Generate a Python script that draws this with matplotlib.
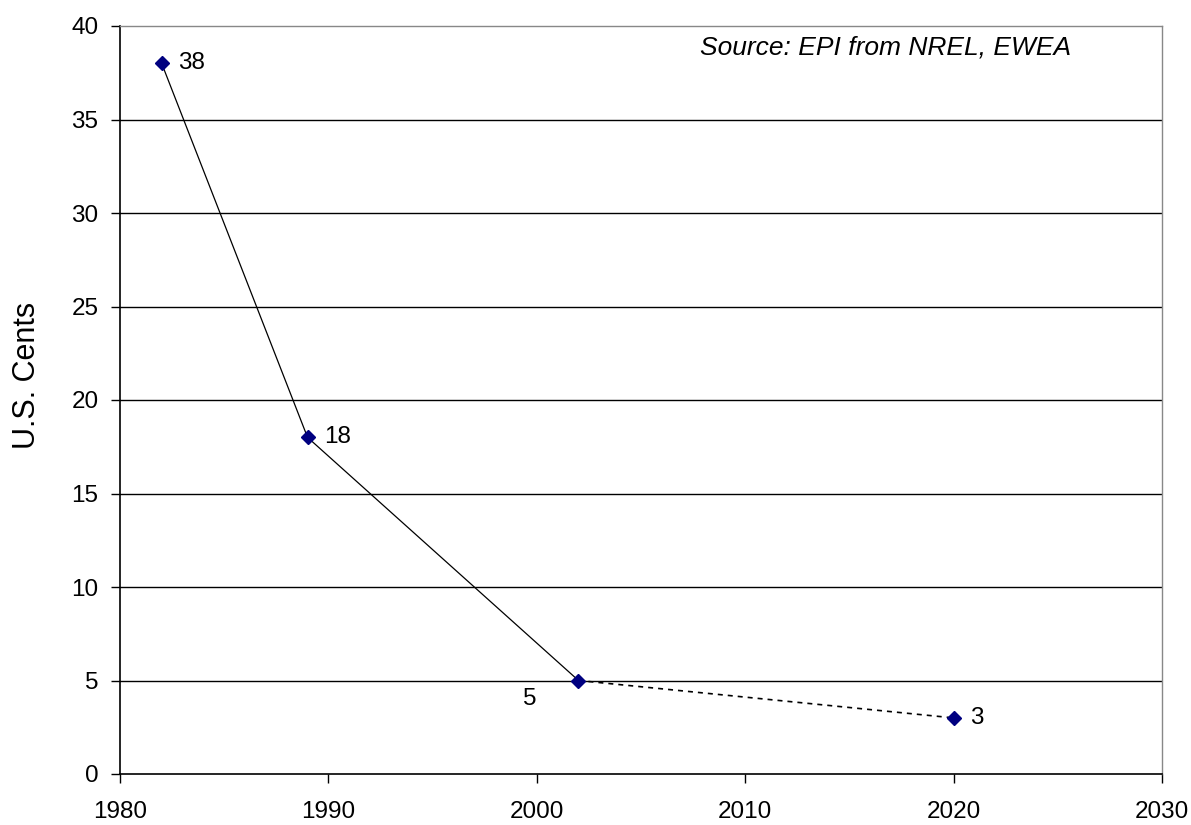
import matplotlib
matplotlib.use("Agg")
import matplotlib.pyplot as plt

years = [1982, 1989, 2002, 2020]
cents = [38, 18, 5, 3]
labels = ["38", "18", "5", "3"]
x_ticks = [1980, 1990, 2000, 2010, 2020, 2030]
y_ticks = [0, 5, 10, 15, 20, 25, 30, 35, 40]

plt.rcParams['font.family'] = ['Liberation Sans', 'DejaVu Sans']

fig = plt.figure(figsize=(11.91, 8.25), dpi=100)
ax = fig.add_axes([120/1191, 51/825, 1042/1191, 748/825])

ax.set_xlim(1980, 2030)
ax.set_ylim(0, 40)

for y in y_ticks[1:-1]:
    ax.axhline(y, color='black', lw=1.0, zorder=1)

# solid segment (historical) and dashed segment (projection)
ax.plot(years[:3], cents[:3], color='black', lw=0.9, zorder=2)
ax.plot(years[2:], cents[2:], color='black', lw=1.2, ls=(0, (3, 3)), zorder=2)
ax.plot(years, cents, ls='none', marker='D', ms=7.5, color='#000080', zorder=3)

offsets = [(12, 0, 'left', 'center'), (12, 0, 'left', 'center'),
           (-40, -13, 'left', 'center'), (12, 0, 'left', 'center')]
for x, y, t, (dx, dy, ha, va) in zip(years, cents, labels, offsets):
    ax.annotate(t, (x, y), xytext=(dx, dy), textcoords='offset points',
                ha=ha, va=va, fontsize=17.5)

fig.text(700/1191, (825-48)/825, "Source: EPI from NREL, EWEA",
         ha='left', va='center', fontsize=19, style='italic')

ax.set_xticks(x_ticks)
ax.set_yticks(y_ticks)
ax.tick_params(axis='both', labelsize=17.5, length=6.5, width=1, direction='out', color='black')
ax.tick_params(axis='x', pad=13)
ax.tick_params(axis='y', pad=9)

for s in ['left', 'bottom']:
    ax.spines[s].set_color('black')
    ax.spines[s].set_linewidth(1.2)
for s in ['top', 'right']:
    ax.spines[s].set_color('#888888')
    ax.spines[s].set_linewidth(1.0)
    ax.spines[s].set_linestyle((0, (1, 1)))

ax.set_ylabel("U.S. Cents", fontsize=22)
ax.yaxis.set_label_coords(-0.075, 0.533)

fig.savefig("out.png", dpi=100)
